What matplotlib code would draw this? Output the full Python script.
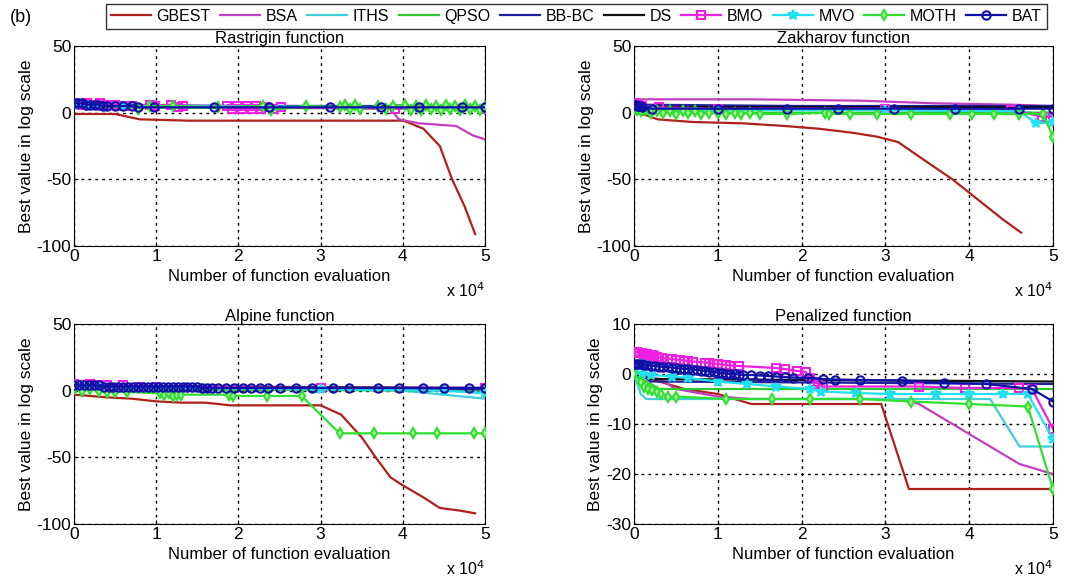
import matplotlib
matplotlib.use("Agg")
import matplotlib.pyplot as plt

# nazwy algorytmow i styl linii
names = ["GBEST", "BSA", "ITHS", "QPSO", "BB-BC", "DS", "BMO", "MVO", "MOTH", "BAT"]
colors = ["#b0201c", "#c040c0", "#40d0d8", "#30c830", "#2020a0", "#101010",
          "#f020e0", "#20e0f0", "#30e030", "#1010a8"]
markers = [None, None, None, None, None, None, "s", "*", "d", "o"]

# ---- Rastrigin (x = liczba ewaluacji) ----
ras_x = {
    "GBEST": [0, 5000, 6500, 8000, 14000, 40000, 40500, 42500, 44500, 46000, 47500, 48800],
    "BSA": [0, 8000, 20000, 38500, 39500, 42000, 46500, 48500, 50000],
    "ITHS": [0, 10000, 30000, 50000],
    "QPSO": [0, 50000],
    "BB-BC": [0, 20000, 50000],
    "DS": [0, 50000],
    "BMO": [0, 800, 1600, 2400, 3200, 4000, 5000, 6000, 7000, 9200, 9800, 11800, 12600, 13200,
            18600, 19200, 19800, 20400, 21000, 21600, 22200, 22800, 23400, 24200, 25200, 39000, 50000],
    "MVO": [0, 2000, 6000, 50000],
    "MOTH": [7800, 9200, 12000, 17500, 23000, 24000, 28200, 32300, 33000, 33600, 34200, 34800,
             37000, 38000, 38800, 40300, 41000, 41600, 42200, 42800, 43400, 44000, 44600,
             45200, 45800, 46400, 47000, 47600, 48200, 48800, 49400, 50000],
    "BAT": [0, 500, 1000, 1500, 2000, 2500, 3000, 3500, 4000, 5000, 6000, 7000, 7800,
            9700, 17000, 23700, 31200, 37300, 42000, 47200, 50000],
}
ras_y = {
    "GBEST": [-1, -1, -3, -5, -6, -6, -7, -12, -25, -50, -70, -91],
    "BSA": [6, 5, 4, 3, -5, -8, -10, -17, -20],
    "ITHS": [6, 5, 5, 4],
    "QPSO": [4, 3],
    "BB-BC": [6, 5, 5],
    "DS": [5, 4],
    "BMO": [7, 6, 7, 6, 7, 6, 6, 5, 5, 6, 5, 6, 4, 5,
            5, 3, 5, 3, 5, 3, 5, 3, 4, 3, 4, 3, 3],
    "MVO": [6, 5, 5, 4],
    "MOTH": [3, 5, 5, 4, 5, 2, 5, 4, 6, 3, 6, 3,
             5, 3, 5, 6, 2, 5, 2, 6, 3, 5, 2, 6,
             3, 5, 2, 6, 3, 5, 2, 4],
    "BAT": [7, 7, 7, 6, 6, 6, 6, 5, 5, 5, 5, 5, 4,
            4, 4, 4, 4, 4, 4, 4, 4],
}

# ---- Zakharov ----
zak_x = {
    "GBEST": [0, 1500, 2800, 7000, 13000, 18000, 22000, 26000, 29000, 31500, 34500, 38000,
              41000, 44000, 46200],
    "BSA": [0, 14000, 27000, 36000, 45000, 50000],
    "ITHS": [0, 5000, 30000, 46000, 50000],
    "QPSO": [0, 10000, 50000],
    "BB-BC": [0, 20000, 50000],
    "DS": [0, 50000],
    "BMO": [0, 500, 1000, 3000, 10000, 30000, 45000, 48700, 50000],
    "MVO": [0, 400, 800, 2000, 10000, 30000, 46000, 48000, 50000],
    "MOTH": [0, 400, 800, 1300, 2000, 2800, 3500, 4300, 5000, 5800, 6500, 7300, 8000, 9000,
             10000, 11000, 12000, 12800, 13800, 15000, 18300, 22800, 23300, 25800, 29000,
             33000, 37700, 40300, 43000, 46000, 48800, 50000],
    "BAT": [0, 200, 400, 600, 800, 1000, 2200, 10000, 18200, 24300, 31000, 38300, 46000, 50000],
}
zak_y = {
    "GBEST": [0, -2, -5, -7, -8, -10, -12, -15, -18, -22, -35, -50, -65, -80, -90],
    "BSA": [10, 10, 9, 7, 6, 5],
    "ITHS": [3, 2, 2, 1, -2],
    "QPSO": [1, 0, 0],
    "BB-BC": [6, 5, 5],
    "DS": [4, 4],
    "BMO": [7, 6, 5, 4, 3, 3, 2, -3, -3],
    "MVO": [5, 4, 3, 2, 2, 2, 1, -8, -7],
    "MOTH": [3, 2, 1, 2, 0, 1, 0, 1, -1, 1, 0, 1, -1, 0,
             0, -1, 0, -1, 0, -1, -1, 0, -1, -1, -1,
             -1, -1, -1, -1, -1, -1, -18],
    "BAT": [6, 6, 5, 5, 5, 4, 3, 3, 3, 3, 3, 3, 3, 3],
}

# ---- Alpine ----
alp_x = {
    "GBEST": [0, 4000, 7000, 10000, 13000, 16000, 19000, 29000, 30000, 32500, 35000, 36700,
              38500, 40000, 42500, 44500, 47000, 48800],
    "BSA": [0, 20000, 50000],
    "ITHS": [0, 20000, 40000, 50000],
    "QPSO": [0, 50000],
    "BB-BC": [0, 30000, 50000],
    "DS": [0, 50000],
    "BMO": [0, 1000, 2000, 3000, 4000, 6000, 8000, 10000, 30000, 50000],
    "MVO": [0, 1000, 3000, 10000, 30000, 45000, 50000],
    "MOTH": [0, 1000, 2000, 3000, 4000, 5000, 6500, 10500, 11000, 11500, 12000, 12500, 13000,
             18800, 19300, 23500, 27700, 32300, 36500, 41200, 44200, 48700, 50000],
    "BAT": [0, 600, 1200, 1800, 2400, 3000, 3600, 4200, 4800, 5400, 6000, 6600, 7200, 7800,
            8400, 9000, 9600, 10200, 10800, 11400, 12000, 12600, 13200, 13800, 14400, 15000,
            15600, 16200, 16800, 17500, 18500, 19500, 20500, 21500, 22600, 23600, 25000,
            27000, 29000, 31500, 33500, 37000, 39500, 42500, 45000, 48000, 50000],
}
alp_y = {
    "GBEST": [-3, -5, -6, -8, -9, -9, -11, -11, -11, -18, -35, -50, -65, -71, -80, -88, -90, -92],
    "BSA": [4, 3, 2],
    "ITHS": [4, 2, 0, -6],
    "QPSO": [1, 0],
    "BB-BC": [3, 2, 1],
    "DS": [3, 2],
    "BMO": [5, 4, 5, 4, 4, 4, 3, 3, 2, 2],
    "MVO": [4, 3, 3, 2, 1, 0, -2],
    "MOTH": [1, 0, 1, 0, -1, -1, -1, -2, -3, -2, -4, -3, -3,
             -3, -4, -4, -4, -32, -32, -32, -32, -32, -32],
    "BAT": [4, 4, 4, 4, 4, 4, 3, 3, 3, 3, 3, 3, 3, 3,
            3, 3, 3, 3, 3, 3, 3, 3, 3, 3, 3, 3,
            2, 2, 2, 2, 2, 2, 2, 2, 2, 2, 2,
            2, 2, 2, 2, 2, 2, 2, 2, 2, 2],
}

# ---- Penalized ----
pen_x = {
    "GBEST": [0, 3000, 6000, 10000, 12000, 14000, 29500, 32800, 50000],
    "BSA": [0, 3000, 5000, 10000, 14000, 32000, 34000, 36000, 40000, 43000, 46000, 50000],
    "ITHS": [0, 800, 1500, 42500, 46000, 50000],
    "QPSO": [0, 3000, 50000],
    "BB-BC": [0, 2000, 50000],
    "DS": [0, 2000, 50000],
    "BMO": [0, 300, 600, 900, 1200, 1500, 1800, 2100, 2400, 2700, 3000, 3300, 4500, 5000,
            5500, 6000, 6500, 7000, 8500, 9000, 9500, 10000, 10500, 11000, 11500, 12500,
            17000, 18000, 19500, 20500, 21000, 21500, 22000, 22500, 34000, 39500, 46000,
            47500, 50000],
    "MVO": [0, 1000, 2000, 4500, 6500, 10000, 13500, 17000, 21000, 22300, 26500, 30500,
            36000, 40000, 44000, 47000, 50000],
    "MOTH": [0, 800, 1200, 1700, 2200, 2700, 3200, 4000, 5000, 11000, 16500, 21000, 27000,
             33000, 40000, 47000, 50000],
    "BAT": [0, 300, 600, 900, 1200, 1500, 2000, 2500, 3000, 3500, 4000, 4500, 5000, 5500,
            6000, 6500, 7000, 7500, 8000, 8500, 9000, 9500, 10000, 10500, 11000, 11500,
            12000, 12500, 13000, 14000, 15000, 16000, 17000, 18000, 19000, 20800, 22500,
            24000, 27000, 32000, 37000, 42000, 47500, 50000],
}
pen_y = {
    "GBEST": [0, -1.5, -3, -4, -5, -6, -6, -23, -23],
    "BSA": [0, -1, -3, -4.5, -5, -5, -6, -8, -12, -15, -18, -20],
    "ITHS": [0, -4, -5, -5, -14.5, -14.5],
    "QPSO": [0, -3, -3],
    "BB-BC": [1, -1.5, -2],
    "DS": [0, -1, -1.5],
    "BMO": [4.5, 4.4, 4.3, 4.2, 4.1, 4.0, 3.9, 3.8, 3.6, 3.5, 3.3, 3.2, 3.0, 2.9,
            2.8, 2.7, 2.6, 2.5, 2.3, 2.2, 2.1, 2.0, 1.9, 1.8, 1.7, 1.6,
            1.2, 1.0, 0.6, 0.4, -0.8, -1.5, -2, -2.5, -2.5, -2.8, -2.8,
            -3, -11],
    "MVO": [1, 0, -0.2, -0.5, -0.8, -1.5, -2, -2.5, -3, -3.5, -3.8, -4,
            -4, -4, -4, -4, -13],
    "MOTH": [0, -1.5, -2.5, -3, -3.2, -3.5, -4, -4.5, -4.5, -5, -5, -5, -5,
             -5.5, -6, -6.5, -23],
    "BAT": [2, 2, 2, 2, 1.8, 1.8, 1.7, 1.6, 1.5, 1.4, 1.4, 1.3, 1.2, 1.1,
            1.0, 1.0, 0.9, 0.8, 0.7, 0.6, 0.5, 0.4, 0.3, 0.2, 0.1, 0.0,
            0.0, -0.1, -0.2, -0.2, -0.3, -0.4, -0.5, -0.6, -0.7, -0.8, -1.0,
            -1.1, -1.2, -1.3, -1.8, -2, -3, -5.5],
}

panels = [
    ("Rastrigin function", ras_x, ras_y, (-100, 50), [-100, -50, 0, 50]),
    ("Zakharov function", zak_x, zak_y, (-100, 50), [-100, -50, 0, 50]),
    ("Alpine function", alp_x, alp_y, (-100, 50), [-100, -50, 0, 50]),
    ("Penalized function", pen_x, pen_y, (-30, 10), [-30, -20, -10, 0, 10]),
]

plt.rcParams["font.family"] = ["Liberation Sans", "DejaVu Sans"]
plt.rcParams["axes.unicode_minus"] = False

W, H = 1069, 576
fig = plt.figure(figsize=(W / 100, H / 100), dpi=100)

msize = {"s": 6, "*": 7, "d": 5.5, "o": 6}
mface = {"s": "none", "*": None, "d": "#a8f0a0", "o": "none"}

boxes = [(74, 46), (634, 46), (74, 324), (634, 324)]
widths = [411, 419, 411, 419]
lines = []
for (title, dx, dy, ylim, yt), (px, py), pw in zip(panels, boxes, widths):
    ax = fig.add_axes([px / W, 1 - (py + 200) / H, pw / W, 200 / H])
    for i, nm in enumerate(names):
        xs = [v / 1e4 for v in dx[nm]]
        m = markers[i]
        ln, = ax.plot(xs, dy[nm], color=colors[i], lw=1.6, marker=m,
                      markersize=msize.get(m, 6),
                      markerfacecolor=mface.get(m) or colors[i],
                      markeredgewidth=1.5, label=nm, zorder=2 + i * 0.1)
        if len(lines) < 10:
            lines.append(ln)
    ax.set_xlim(0, 5)
    ax.set_ylim(*ylim)
    ax.set_xticks([0, 1, 2, 3, 4, 5])
    ax.set_yticks(yt)
    ax.tick_params(labelsize=12.5, direction="in", length=3, pad=2)
    ax.grid(True, color="black", linestyle=(0, (2, 3)), linewidth=1.0)
    ax.set_title(title, fontsize=12, pad=0.5)
    ax.set_xlabel("Number of function evaluation", fontsize=12, labelpad=4)
    ax.set_ylabel("Best value in log scale", fontsize=12.5, labelpad=2)
    ax.text(1.0, -0.175, "x 10$^4$", transform=ax.transAxes, ha="right", va="top", fontsize=11.5)

fig.legend(lines, names, loc="upper left", bbox_to_anchor=(106 / W, 1 - 4 / H), ncol=10,
           fontsize=11.5, frameon=True, fancybox=False, edgecolor="black",
           handlelength=2.5, handletextpad=0.35, columnspacing=0.6, borderpad=0.3,
           borderaxespad=0)
fig.text(10 / W, 1 - 18 / H, "(b)", fontsize=13, va="center")

fig.savefig("out.png", dpi=100)
